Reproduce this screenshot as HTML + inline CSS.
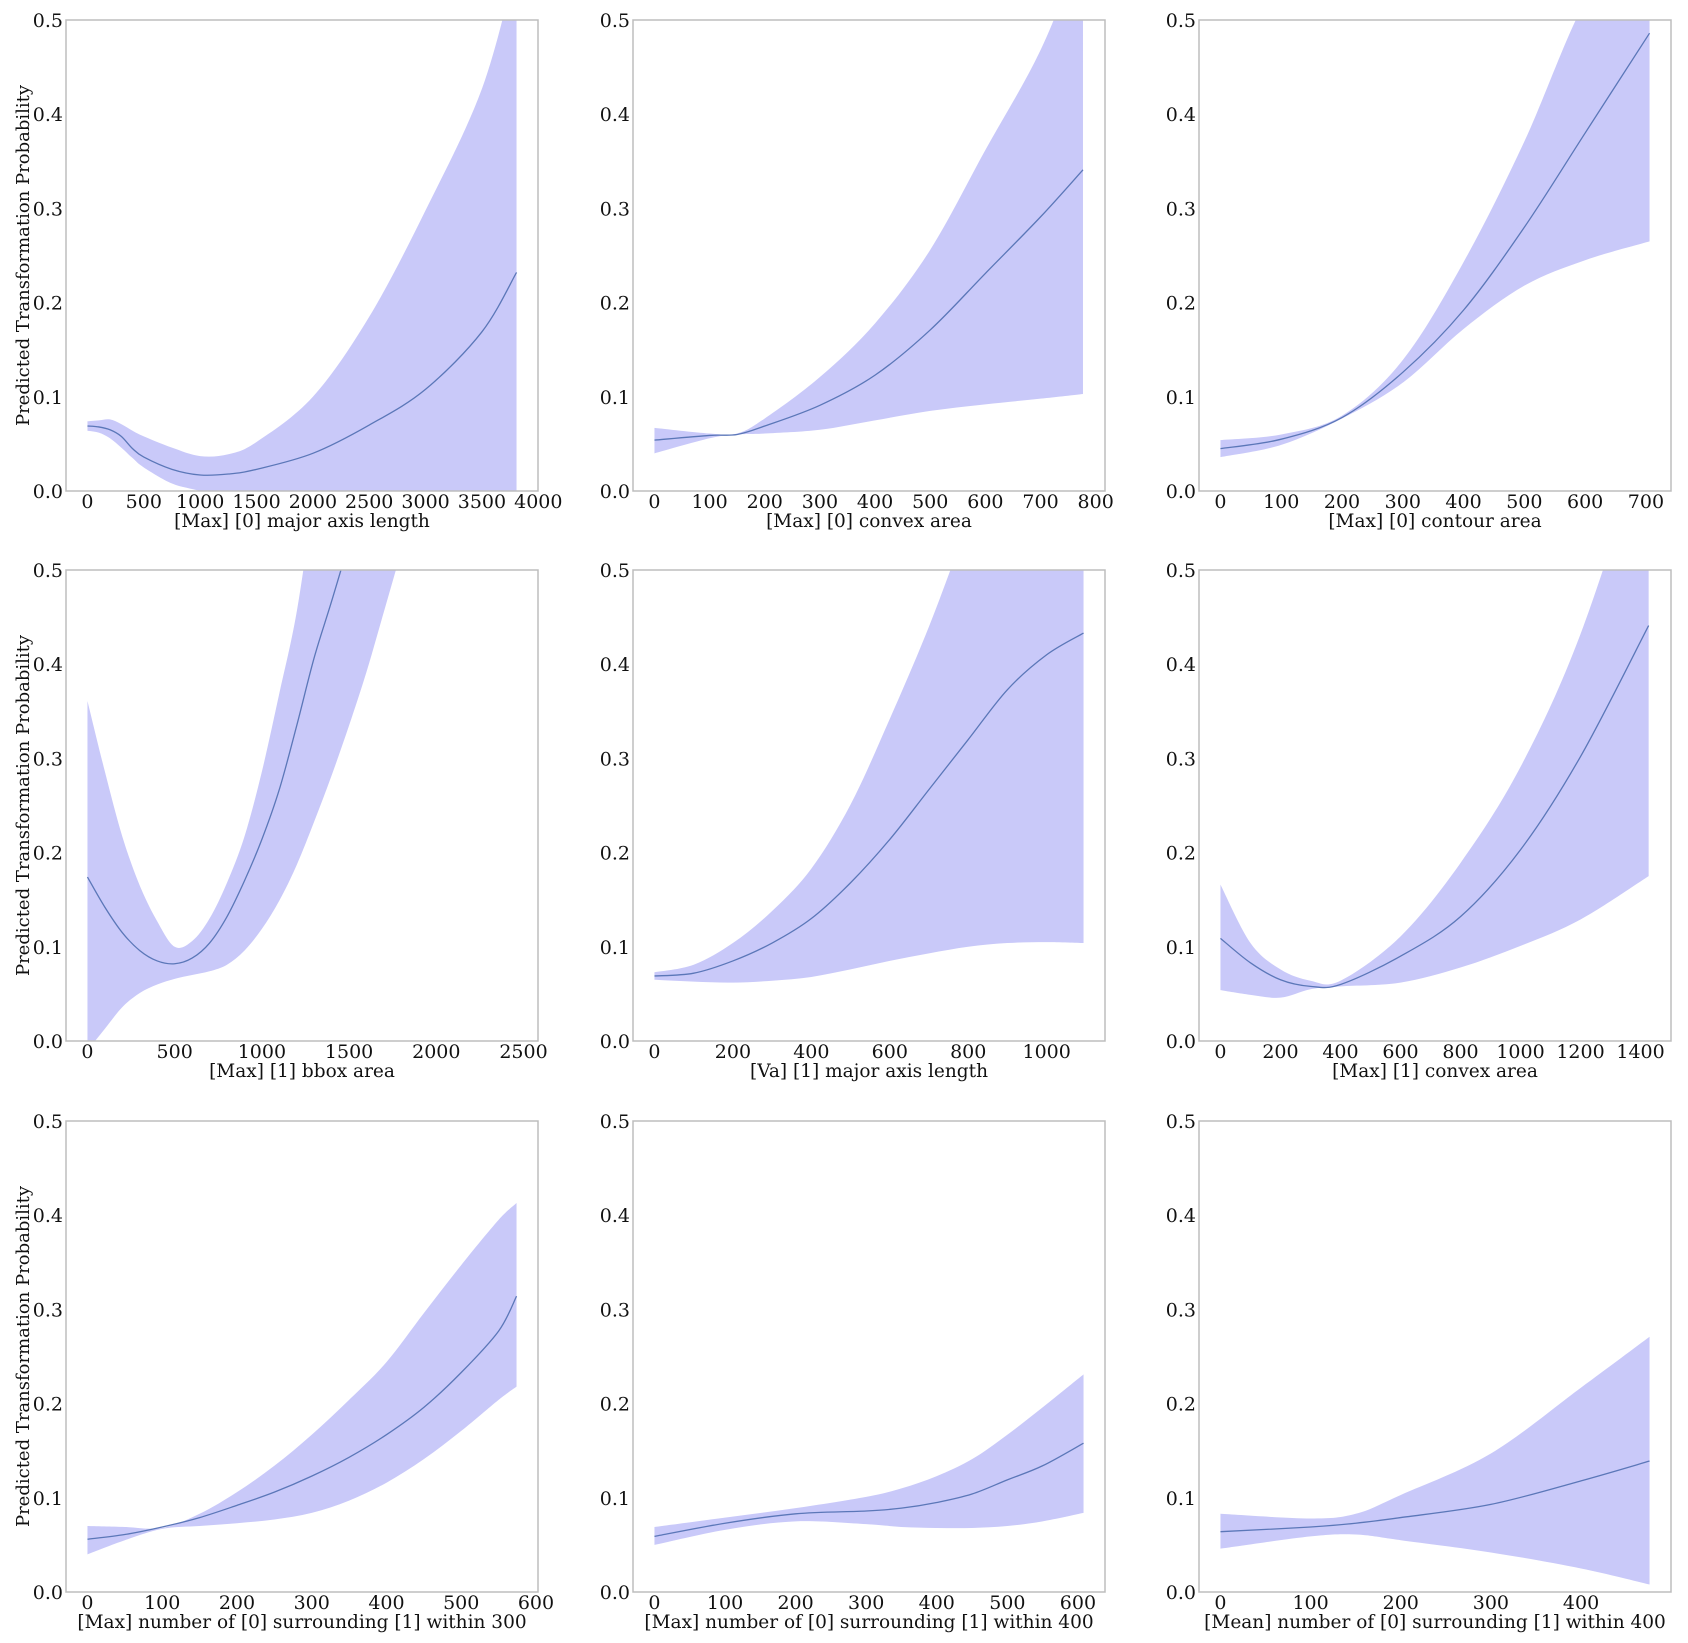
<!DOCTYPE html>
<html><head><meta charset="utf-8">
<style>
html,body{margin:0;padding:0;background:#fff;}
svg{display:block;font-family:"DejaVu Serif","Liberation Serif",serif;}
</style></head>
<body>
<svg id="fig" width="1688" height="1643" viewBox="0 0 1688 1643" xmlns="http://www.w3.org/2000/svg"></svg>
<script>
// ---- Panel data (x values, mean line, upper/lower confidence band) ----
const p1x = [0,100,200,300,400,500,750,1000,1250,1500,2000,2500,3000,3500,3807];
const p1mean = [0.069,0.068,0.065,0.058,0.045,0.036,0.023,0.017,0.018,0.023,0.040,0.070,0.108,0.169,0.232];
const p1upper = [0.074,0.075,0.076,0.071,0.064,0.058,0.046,0.037,0.039,0.052,0.100,0.185,0.298,0.427,0.56];
const p1lower = [0.064,0.062,0.056,0.046,0.035,0.025,0.008,0.0,-0.01,-0.02,-0.03,-0.05,-0.08,-0.1,-0.12];

const p2x = [0,100,150,200,300,400,500,600,700,777];
const p2mean = [0.054,0.059,0.060,0.069,0.091,0.123,0.171,0.231,0.291,0.341];
const p2upper = [0.067,0.061,0.061,0.077,0.121,0.178,0.256,0.362,0.468,0.58];
const p2lower = [0.040,0.056,0.060,0.061,0.065,0.075,0.085,0.092,0.098,0.103];

const p3x = [0,100,200,300,400,500,600,706];
const p3mean = [0.045,0.055,0.078,0.126,0.192,0.280,0.380,0.486];
const p3upper = [0.054,0.060,0.080,0.139,0.243,0.371,0.52,0.62];
const p3lower = [0.036,0.049,0.077,0.115,0.172,0.218,0.245,0.265];

const p4x = [0,100,200,300,400,500,600,700,800,900,1000,1100,1200,1300,1400,1500,1600,1700,1800,1900];
const p4mean = [0.174,0.142,0.115,0.096,0.085,0.082,0.088,0.104,0.132,0.170,0.214,0.267,0.335,0.407,0.467,0.53,0.6,0.68,0.76,0.85];
const p4upper = [0.361,0.286,0.217,0.165,0.127,0.100,0.106,0.130,0.168,0.217,0.286,0.369,0.456,0.58,0.7,0.8,0.9,1.0,1.1,1.2];
const p4lower = [-0.01,0.013,0.036,0.051,0.060,0.066,0.070,0.074,0.081,0.096,0.119,0.149,0.187,0.233,0.282,0.335,0.392,0.456,0.52,0.58];

const p5x = [0,100,200,300,400,500,600,700,800,900,1000,1094];
const p5mean = [0.069,0.072,0.085,0.104,0.130,0.168,0.214,0.267,0.320,0.373,0.410,0.433];
const p5upper = [0.073,0.081,0.104,0.138,0.183,0.251,0.342,0.44,0.55,0.65,0.75,0.8];
const p5lower = [0.065,0.063,0.062,0.064,0.068,0.076,0.085,0.093,0.100,0.104,0.105,0.104];

const p6x = [0,100,200,300,400,600,800,1000,1200,1427];
const p6mean = [0.109,0.083,0.065,0.058,0.060,0.090,0.132,0.203,0.302,0.441];
const p6upper = [0.166,0.104,0.076,0.064,0.064,0.111,0.189,0.291,0.432,0.65];
const p6lower = [0.054,0.049,0.046,0.055,0.058,0.062,0.078,0.101,0.129,0.175];

const p7x = [0,50,100,150,200,250,300,350,400,450,500,550,574];
const p7mean = [0.056,0.061,0.069,0.079,0.092,0.106,0.123,0.143,0.167,0.196,0.233,0.277,0.314];
const p7upper = [0.070,0.069,0.068,0.083,0.106,0.134,0.167,0.204,0.244,0.296,0.347,0.395,0.413];
const p7lower = [0.040,0.055,0.067,0.070,0.073,0.077,0.084,0.097,0.116,0.141,0.171,0.204,0.218];

const p8x = [0,100,200,300,350,400,450,500,550,608];
const p8mean = [0.059,0.073,0.083,0.086,0.089,0.095,0.104,0.119,0.134,0.158];
const p8upper = [0.069,0.079,0.089,0.101,0.110,0.123,0.141,0.167,0.196,0.231];
const p8lower = [0.050,0.066,0.075,0.072,0.069,0.068,0.068,0.070,0.075,0.084];

const p9x = [0,100,150,200,300,400,476];
const p9mean = [0.064,0.069,0.073,0.079,0.093,0.118,0.139];
const p9upper = [0.083,0.078,0.083,0.103,0.147,0.217,0.271];
const p9lower = [0.046,0.059,0.061,0.055,0.042,0.025,0.008];

// x tick labels
const p1ticks = [0,500,1000,1500,2000,2500,3000,3500,4000];
const p2ticks = [0,100,200,300,400,500,600,700,800];
const p3ticks = [0,100,200,300,400,500,600,700];
const p4ticks = [0,500,1000,1500,2000,2500];
const p5ticks = [0,200,400,600,800,1000];
const p6ticks = [0,200,400,600,800,1000,1200,1400];
const p7ticks = [0,100,200,300,400,500,600];
const p8ticks = [0,100,200,300,400,500,600];
const p9ticks = [0,100,200,300,400];
const yTicks = [0.0,0.1,0.2,0.3,0.4,0.5];

const xlabels = ["[Max] [0] major axis length","[Max] [0] convex area","[Max] [0] contour area",
 "[Max] [1] bbox area","[Va] [1] major axis length","[Max] [1] convex area",
 "[Max] number of [0] surrounding [1] within 300","[Max] number of [0] surrounding [1] within 400","[Mean] number of [0] surrounding [1] within 400"];
const xRange = [3807,778,706,2460,1094,1430,574,608,476];

const panels = [
 [p1x,p1mean,p1upper,p1lower,p1ticks],[p2x,p2mean,p2upper,p2lower,p2ticks],[p3x,p3mean,p3upper,p3lower,p3ticks],
 [p4x,p4mean,p4upper,p4lower,p4ticks],[p5x,p5mean,p5upper,p5lower,p5ticks],[p6x,p6mean,p6upper,p6lower,p6ticks],
 [p7x,p7mean,p7upper,p7lower,p7ticks],[p8x,p8mean,p8upper,p8lower,p8ticks],[p9x,p9mean,p9upper,p9lower,p9ticks]];

const NS = "http://www.w3.org/2000/svg";
const svg = document.getElementById('fig');
const colLeft = [66,633,1199], rowTop = [20,570,1121], PW = 472, PH = 471;

function mk(tag, attrs, parent){
  const e = document.createElementNS(NS, tag);
  for (const k in attrs) e.setAttribute(k, attrs[k]);
  parent.appendChild(e);
  return e;
}
function smooth(pts){
  let d = "M"+pts[0][0].toFixed(2)+","+pts[0][1].toFixed(2);
  for (let i=0;i<pts.length-1;i++){
    const p0 = pts[i-1]||pts[i], p1 = pts[i], p2 = pts[i+1], p3 = pts[i+2]||p2;
    const c1x = p1[0]+(p2[0]-p0[0])/6, c1y = p1[1]+(p2[1]-p0[1])/6;
    const c2x = p2[0]-(p3[0]-p1[0])/6, c2y = p2[1]-(p3[1]-p1[1])/6;
    d += " C"+c1x.toFixed(2)+","+c1y.toFixed(2)+" "+c2x.toFixed(2)+","+c2y.toFixed(2)+" "+p2[0].toFixed(2)+","+p2[1].toFixed(2);
  }
  return d;
}

panels.forEach((pd, i) => {
  const [xs, mean, up, lo, ticks] = pd;
  const L = colLeft[i%3], T = rowTop[Math.floor(i/3)];
  const R = xRange[i], xmin = -0.05*R, xmax = 1.05*R;
  const sx = v => L + (v - xmin)/(xmax - xmin)*PW;
  const sy = v => T + PH - v/0.5*PH;
  const g = mk('g', {}, svg);
  
  
  const cid = 'clip'+i;
  const cp = mk('clipPath', {id:cid}, g);
  mk('rect', {x:L, y:T, width:PW, height:PH}, cp);
  const upPts = xs.map((x,k)=>[sx(x), sy(up[k])]);
  const loPts = xs.map((x,k)=>[sx(x), sy(lo[k])]).reverse();
  let d = smooth(upPts) + " L" + loPts[0][0].toFixed(2)+","+loPts[0][1].toFixed(2) + smooth(loPts).replace(/^M[^C]*/, ' ') + " Z";
  const band = mk('path', {d:d, fill:'#c9c9f9', stroke:'none', 'clip-path':'url(#'+cid+')'}, g);
  
  
  const line = mk('path', {d:smooth(xs.map((x,k)=>[sx(x), sy(mean[k])])), fill:'none', stroke:'#5b77b8', 'stroke-width':1.3, 'clip-path':'url(#'+cid+')'}, g);
  
  
  const frame = mk('rect', {x:L, y:T, width:PW, height:PH, fill:'none', stroke:'#bdbdbd', 'stroke-width':1.5}, g);
  
  
  yTicks.forEach(v => {
    const t = mk('text', {x:L-3, y:sy(v)+7, 'text-anchor':'end', 'font-size':19, fill:'#111'}, g);
    t.textContent = v.toFixed(1);
    
    
  });
  ticks.forEach(v => {
    const t = mk('text', {x:sx(v), y:T+PH+17, 'text-anchor':'middle', 'font-size':19, fill:'#111'}, g);
    t.textContent = String(v);
    
    
  });
  const xl = mk('text', {x:L+PW/2, y:T+PH+36, 'text-anchor':'middle', 'font-size':18.5, fill:'#111'}, g);
  xl.textContent = xlabels[i];
  
  
  if (i%3===0){
    const cy = T+PH/2;
    const yl = mk('text', {x:0, y:0, transform:'translate(29,'+cy+') rotate(-90)', 'text-anchor':'middle', 'font-size':18, fill:'#111'}, g);
    yl.textContent = 'Predicted Transformation Probability';
    
    
  }
});
</script>
</body></html>
